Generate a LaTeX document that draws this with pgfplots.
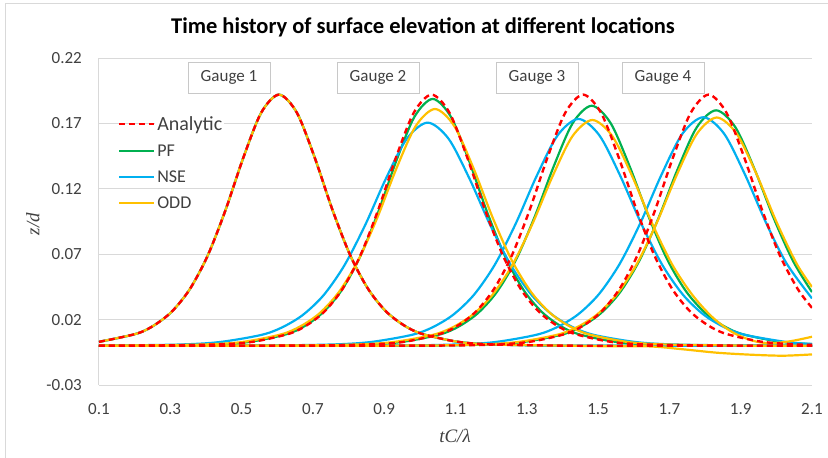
\documentclass[border=0pt]{standalone}
\usepackage{fontspec}
\setmainfont{Carlito}
\newfontfamily\lserif{Liberation Serif}
\usepackage{pgfplots}
\pgfplotsset{compat=1.18}
\definecolor{cred}{RGB}{255,0,0}
\definecolor{cgreen}{RGB}{0,176,80}
\definecolor{cblue}{RGB}{0,176,240}
\definecolor{cyel}{RGB}{255,192,0}
\definecolor{gridc}{RGB}{217,217,217}
\definecolor{boxc}{RGB}{200,200,200}
\definecolor{txt}{RGB}{64,64,64}
\pgfplotsset{
  an/.style={color=cred, line width=2.4pt, dash pattern=on 6pt off 4pt, smooth},
  pf/.style={color=cgreen, line width=2.2pt, smooth},
  nse/.style={color=cblue, line width=2.2pt, smooth},
  odd/.style={color=cyel, line width=2.2pt, smooth},
}
\begin{document}
\begin{tikzpicture}
\useasboundingbox (0,0) rectangle (828pt,-458pt);
\draw[color=gridc, line width=1pt] (5pt,-458pt) -- (5pt,-3pt) -- (828pt,-3pt);
\node[font=\fontsize{22.5}{26}\selectfont\bfseries, text=black] at (423pt,-27pt) {Time history of surface elevation at different locations};
\begin{axis}[
  at={(99pt,-385pt)}, anchor=south west, scale only axis,
  width=713pt, height=327pt,
  xmin=0.1, xmax=2.1, ymin=-0.03, ymax=0.22,
  axis lines*=left,
  x axis line style={draw=none},
  y axis line style={draw=gridc, line width=1pt},
  xtick={0.1,0.3,0.5,0.7,0.9,1.1,1.3,1.5,1.7,1.9,2.1},
  xticklabels={0.1,0.3,0.5,0.7,0.9,1.1,1.3,1.5,1.7,1.9,2.1},
  ytick={-0.03,0.02,0.07,0.12,0.17,0.22},
  yticklabels={-0.03,0.02,0.07,0.12,0.17,0.22},
  major tick length=0pt,
  ymajorgrids, major grid style={draw=gridc, line width=1pt},
  xticklabel style={font=\fontsize{17}{20}\selectfont, text=txt, inner sep=0pt, anchor=north, yshift=-18pt},
  yticklabel style={font=\fontsize{17}{20}\selectfont, text=txt, inner sep=0pt, anchor=east, xshift=-17pt},
  legend image code/.code={\draw[#1] (0pt,0pt) -- (35pt,0pt);},
  legend style={draw=none, fill=none, at={(0.022,0.835)}, anchor=north west,
    font=\fontsize{18}{21}\selectfont, text=txt, row sep=9pt,
    nodes={fill=white},
    /tikz/every even column/.append style={column sep=0pt}},
  legend cell align=left,
]
\addlegendimage{an}\addlegendentry{\fontsize{20}{23}\selectfont Analytic}
\addlegendimage{pf}\addlegendentry{PF}
\addlegendimage{nse}\addlegendentry{NSE}
\addlegendimage{odd}\addlegendentry{ODD}

% ---------- PF ----------
\addplot[pf, forget plot] coordinates {(0.1,0.0030)(0.205,0.0092)(0.255,0.0157)(0.305,0.0263)(0.355,0.0434)(0.405,0.0690)(0.455,0.1038)(0.505,0.1439)(0.555,0.1782)(0.605,0.192)(0.655,0.1782)(0.705,0.1439)(0.755,0.1038)(0.805,0.0690)(0.855,0.0434)(0.905,0.0263)(0.955,0.0157)(1.005,0.0092)(1.105,0.0031)(1.205,0.0010)(1.405,0.0001)(1.6,0)(2.1,0)};
\addplot[pf, forget plot] coordinates {(0.1,0)(0.220,0.0001)(0.424,0.0010)(0.526,0.0031)(0.628,0.0090)(0.679,0.0154)(0.730,0.0259)(0.781,0.0426)(0.832,0.0678)(0.883,0.1020)(0.934,0.1414)(0.985,0.1751)(1.036,0.1887)(1.087,0.1751)(1.138,0.1414)(1.189,0.1020)(1.240,0.0678)(1.291,0.0426)(1.342,0.0259)(1.393,0.0154)(1.444,0.0090)(1.546,0.0031)(1.648,0.0010)(1.852,0.0001)(2.1,0)};
\addplot[pf, forget plot] coordinates {(0.1,0)(0.634,0.0001)(0.846,0.0010)(0.952,0.0030)(1.058,0.0088)(1.111,0.0150)(1.164,0.0252)(1.217,0.0415)(1.270,0.0659)(1.323,0.0992)(1.376,0.1375)(1.429,0.1703)(1.482,0.1835)(1.535,0.1703)(1.588,0.1375)(1.641,0.0992)(1.694,0.0659)(1.747,0.0415)(1.800,0.0252)(1.853,0.0150)(1.906,0.0088)(2.012,0.0030)(2.1,0.0013)};
\addplot[pf, forget plot] coordinates {(0.1,0)(0.967,0.0001)(1.183,0.0010)(1.291,0.0029)(1.399,0.0086)(1.453,0.0147)(1.507,0.0247)(1.561,0.0407)(1.615,0.0647)(1.669,0.0973)(1.723,0.1349)(1.777,0.1671)(1.831,0.180)(1.885,0.1671)(1.939,0.1349)(1.993,0.0973)(2.047,0.0647)(2.1,0.041)};

% ---------- NSE ----------
\addplot[nse, forget plot] coordinates {(0.1,0.0030)(0.205,0.0092)(0.255,0.0157)(0.305,0.0263)(0.355,0.0434)(0.405,0.0690)(0.455,0.1038)(0.505,0.1439)(0.555,0.1782)(0.605,0.192)(0.655,0.1782)(0.705,0.1439)(0.755,0.1038)(0.805,0.0690)(0.855,0.0434)(0.905,0.0263)(0.955,0.0157)(1.005,0.0092)(1.105,0.0031)(1.205,0.0010)(1.405,0.0001)(1.6,0)(2.1,0)};
\addplot[nse, forget plot] coordinates {(0.1,0.0001)(0.320,0.0009)(0.437,0.0028)(0.554,0.0082)(0.6125,0.0139)(0.671,0.0234)(0.7295,0.0385)(0.788,0.0613)(0.8465,0.0922)(0.905,0.1279)(0.9635,0.1583)(1.022,0.1706)(1.0805,0.1583)(1.139,0.1279)(1.1975,0.0922)(1.256,0.0613)(1.3145,0.0385)(1.373,0.0234)(1.4315,0.0139)(1.490,0.0082)(1.607,0.0028)(1.724,0.0009)(1.958,0.0001)(2.1,0)};
\addplot[nse, forget plot] coordinates {(0.1,0)(0.509,0.0001)(0.743,0.0009)(0.860,0.0028)(0.977,0.0083)(1.0355,0.0141)(1.094,0.0238)(1.1525,0.0392)(1.211,0.0623)(1.2695,0.0937)(1.328,0.1300)(1.3865,0.1609)(1.445,0.1734)(1.5035,0.1609)(1.562,0.1300)(1.6205,0.0937)(1.679,0.0623)(1.7375,0.0392)(1.796,0.0238)(1.8545,0.0141)(1.913,0.0083)(2.03,0.0028)(2.1,0.0014)};
\addplot[nse, forget plot] coordinates {(0.1,0)(0.859,0.0001)(1.093,0.0009)(1.210,0.0028)(1.327,0.0084)(1.3855,0.0143)(1.444,0.0240)(1.5025,0.0395)(1.561,0.0628)(1.6195,0.0944)(1.678,0.1309)(1.7365,0.1621)(1.795,0.1747)(1.8535,0.1621)(1.912,0.1309)(1.9705,0.0944)(2.029,0.0628)(2.1,0.0362)};

% ---------- ODD ----------
\addplot[odd, forget plot] coordinates {(0.1,0.0030)(0.205,0.0092)(0.255,0.0157)(0.305,0.0263)(0.355,0.0434)(0.405,0.0690)(0.455,0.1038)(0.505,0.1439)(0.555,0.1782)(0.605,0.192)(0.655,0.1782)(0.705,0.1439)(0.755,0.1038)(0.805,0.0690)(0.855,0.0434)(0.905,0.0263)(0.955,0.0157)(1.005,0.0092)(1.105,0.0031)(1.205,0.0010)(1.405,0.0001)(1.5,-0.0003)(1.645,-0.0005)(1.738,-0.0027)(1.833,-0.0053)(1.926,-0.0068)(2.019,-0.0076)(2.1,-0.0066)};
\addplot[odd, forget plot] coordinates {(0.1,0)(0.1785,0.0001)(0.3945,0.0010)(0.5025,0.0029)(0.6105,0.0087)(0.6645,0.0148)(0.7185,0.0248)(0.7725,0.0409)(0.8265,0.0650)(0.8805,0.0978)(0.9345,0.1357)(0.9885,0.1680)(1.0425,0.181)(1.0965,0.1680)(1.1505,0.1357)(1.2045,0.0978)(1.2585,0.0650)(1.3125,0.0409)(1.3665,0.0248)(1.4205,0.0148)(1.4745,0.0087)(1.5825,0.0029)(1.6905,0.0010)(1.9065,0.0001)(2.1,0)};
\addplot[odd, forget plot] coordinates {(0.1,0)(0.588,0.0001)(0.812,0.0009)(0.924,0.0028)(1.036,0.0083)(1.092,0.0141)(1.148,0.0237)(1.204,0.0390)(1.260,0.0620)(1.316,0.0933)(1.372,0.1294)(1.428,0.1602)(1.484,0.1726)(1.540,0.1602)(1.596,0.1294)(1.652,0.0933)(1.708,0.0620)(1.764,0.0390)(1.820,0.0220)(1.876,0.0105)(1.932,0.0040)(1.98,0.0020)(2.04,0.0035)(2.1,0.0069)};
\addplot[odd, forget plot] coordinates {(0.1,0)(0.937,0.0001)(1.161,0.0009)(1.273,0.0028)(1.385,0.0084)(1.441,0.0142)(1.497,0.0239)(1.553,0.0394)(1.609,0.0627)(1.665,0.0943)(1.721,0.1308)(1.777,0.1620)(1.833,0.1745)(1.889,0.1620)(1.945,0.1308)(2.001,0.0943)(2.057,0.0627)(2.1,0.045)};

% ---------- Analytic ----------
\addplot[an, forget plot] coordinates {(0.1,0.0030)(0.205,0.0092)(0.255,0.0157)(0.305,0.0263)(0.355,0.0434)(0.405,0.0690)(0.455,0.1038)(0.505,0.1439)(0.555,0.1782)(0.605,0.192)(0.655,0.1782)(0.705,0.1439)(0.755,0.1038)(0.805,0.0690)(0.855,0.0434)(0.905,0.0263)(0.955,0.0157)(1.005,0.0092)(1.105,0.0031)(1.205,0.0010)(1.405,0.0001)(1.6,0)(2.1,0)};
\addplot[an, forget plot] coordinates {(0.1,0)(0.233,0.0001)(0.433,0.0010)(0.533,0.0031)(0.633,0.0092)(0.683,0.0157)(0.733,0.0263)(0.783,0.0434)(0.833,0.0690)(0.883,0.1038)(0.933,0.1439)(0.983,0.1782)(1.033,0.192)(1.083,0.1782)(1.133,0.1439)(1.183,0.1038)(1.233,0.0690)(1.283,0.0434)(1.333,0.0263)(1.383,0.0157)(1.433,0.0092)(1.533,0.0031)(1.633,0.0010)(1.833,0.0001)(2.1,0)};
\addplot[an, forget plot] coordinates {(0.1,0)(0.658,0.0001)(0.858,0.0010)(0.958,0.0031)(1.058,0.0092)(1.108,0.0157)(1.158,0.0263)(1.208,0.0434)(1.258,0.0690)(1.308,0.1038)(1.358,0.1439)(1.408,0.1782)(1.458,0.192)(1.508,0.1782)(1.558,0.1439)(1.608,0.1038)(1.658,0.0690)(1.708,0.0434)(1.758,0.0263)(1.808,0.0157)(1.858,0.0092)(1.958,0.0031)(2.058,0.0010)(2.1,0.0007)};
\addplot[an, forget plot] coordinates {(0.1,0)(1.01,0.0001)(1.21,0.0010)(1.31,0.0031)(1.41,0.0092)(1.46,0.0157)(1.51,0.0263)(1.56,0.0434)(1.61,0.0690)(1.66,0.1038)(1.71,0.1439)(1.76,0.1782)(1.81,0.192)(1.86,0.1782)(1.91,0.1439)(1.96,0.1038)(2.01,0.0690)(2.06,0.0434)(2.1,0.029)};
\end{axis}
\foreach \cx/\lab in {229/Gauge 1,378/Gauge 2,537/Gauge 3,663/Gauge 4}{
  \node[draw=boxc, line width=1pt, fill=white, minimum width=82pt, minimum height=31pt, inner sep=0pt,
        font=\fontsize{17}{20}\selectfont, text=txt] at (\cx pt,-77.5pt) {\lab};
}
\node[font=\fontsize{19}{22}\selectfont\lserif\itshape, text=txt] at (455pt,-436pt) {tC/λ};
\node[font=\fontsize{19}{22}\selectfont\lserif\itshape, text=txt, rotate=90] at (33pt,-224pt) {z/d};
\end{tikzpicture}
\end{document}
